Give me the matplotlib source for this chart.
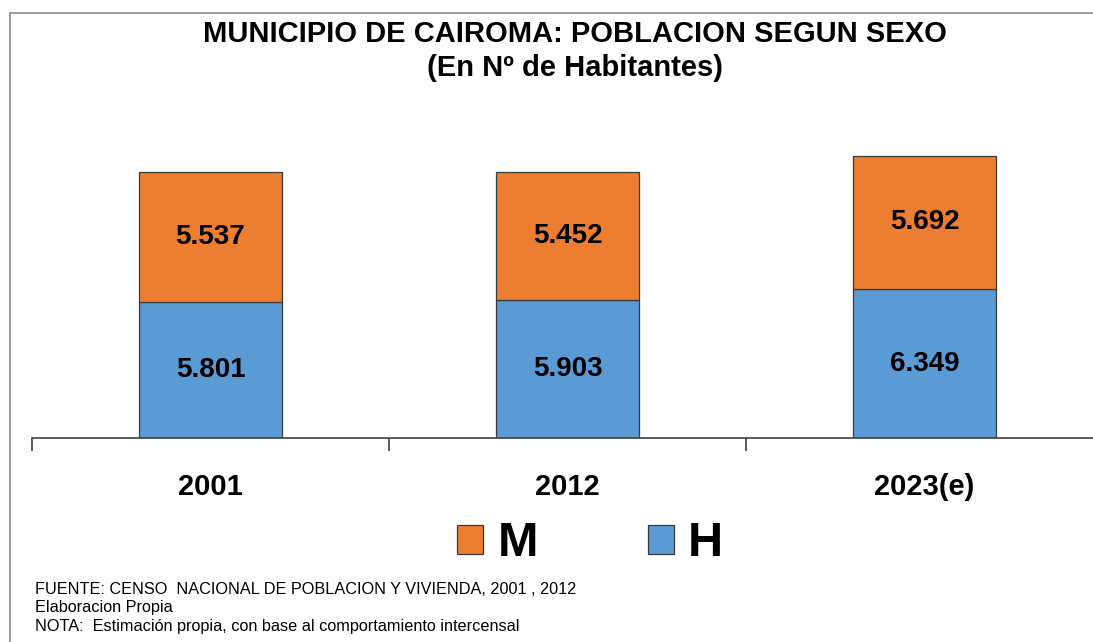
import matplotlib
matplotlib.use("Agg")
import matplotlib.pyplot as plt
from matplotlib.patches import Patch, Rectangle

plt.rcParams['font.family'] = ['Liberation Sans', 'DejaVu Sans']

# data
years = ["2001", "2012", "2023(e)"]
hombres = [5801, 5903, 6349]
mujeres = [5537, 5452, 5692]

C_M = "#ED7D31"
C_H = "#5B9BD5"
EDGE = "#3a3a3a"

W, H = 1093, 642
fig = plt.figure(figsize=(W / 100, H / 100), dpi=100)

# outer frame of the original chart object
fig.patches.append(Rectangle((9.5 / W, -0.1), 1.2, 1.1 - 12.5 / H,
                             transform=fig.transFigure, fill=False,
                             edgecolor="#8c8c8c", linewidth=1.2))

# plot area (right side runs past the image edge, like the original)
left, bottom = 32 / W, (H - 438) / H
ax = fig.add_axes([left, bottom, 1071 / W, 338 / H])

x = range(len(years))
bw = 0.398
ax.bar(x, hombres, width=bw, color=C_H, edgecolor=EDGE, linewidth=0.9, zorder=2)
ax.bar(x, mujeres, width=bw, bottom=hombres, color=C_M, edgecolor=EDGE,
       linewidth=0.9, zorder=2)

for i in x:
    ax.text(i, hombres[i] / 2, f"{hombres[i]:,}".replace(",", "."),
            ha="center", va="center", fontsize=20, fontweight="bold")
    ax.text(i, hombres[i] + mujeres[i] / 2, f"{mujeres[i]:,}".replace(",", "."),
            ha="center", va="center", fontsize=20, fontweight="bold")

ax.set_xlim(-0.5, 2.5)
ax.set_ylim(0, 338 / 0.02346)

for s in ["top", "right", "left"]:
    ax.spines[s].set_visible(False)
ax.spines["bottom"].set_color("#404040")
ax.spines["bottom"].set_linewidth(1.2)
ax.set_yticks([])

ax.set_xticks([-0.5, 0.5, 1.5, 2.5])
ax.set_xticklabels([])
ax.tick_params(axis="x", which="major", direction="out", length=9,
               width=1.2, color="#404040")
ax.set_xticks(list(x), minor=True)
ax.set_xticklabels(years, minor=True, fontsize=21, fontweight="bold")
ax.tick_params(axis="x", which="minor", length=0, pad=25)

# title
fig.text(575 / W, 1 - 34 / H, "MUNICIPIO DE CAIROMA: POBLACION SEGUN SEXO",
         ha="center", va="center", fontsize=21, fontweight="bold")
fig.text(575 / W, 1 - 68 / H, "(En N\u00ba de Habitantes)",
         ha="center", va="center", fontsize=21, fontweight="bold")

# legend
handles = [Patch(facecolor=C_M, edgecolor=EDGE, linewidth=0.9, label="M"),
           Patch(facecolor=C_H, edgecolor=EDGE, linewidth=0.9, label="H")]
fig.legend(handles=handles, loc="center", bbox_to_anchor=(590 / W, 1 - 544 / H),
           ncol=2, frameon=False, handlelength=0.54, handleheight=0.54,
           handletextpad=0.29, columnspacing=2.26,
           prop={"size": 35, "weight": "bold"})

# footnotes
notes = ["FUENTE: CENSO  NACIONAL DE POBLACION Y VIVIENDA, 2001 , 2012",
         "Elaboracion Propia",
         "NOTA:  Estimaci\u00f3n propia, con base al comportamiento intercensal"]
for k, line in enumerate(notes):
    fig.text(35 / W, 1 - (589 + k * 18.5) / H, line, ha="left", va="center",
             fontsize=11.7)

fig.savefig("out.png", dpi=100)
